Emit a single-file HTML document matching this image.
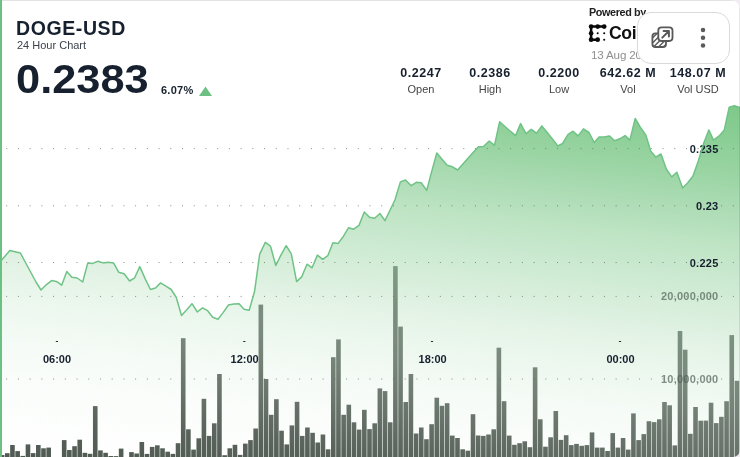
<!DOCTYPE html>
<html><head><meta charset="utf-8"><title>DOGE-USD</title>
<style>
html,body{margin:0;padding:0;}
body{width:740px;height:457px;overflow:hidden;background:#f1ecf2;font-family:"Liberation Sans",sans-serif;position:relative;}
#card{position:absolute;left:0;top:0;width:740px;height:457px;background:#fff;border-radius:0 9px 7px 0;overflow:hidden;}
#topline{position:absolute;left:0;top:0;width:740px;height:1px;background:#e3e3e3;}
#leftbar{position:absolute;left:0;top:0;width:2px;height:457px;background:#6cc182;}
.t,.stat{will-change:transform;}
.t{position:absolute;white-space:nowrap;color:#16202e;font-weight:bold;line-height:1;}
svg{position:absolute;left:0;top:0;will-change:transform;}
svg text{font-family:"Liberation Sans",sans-serif;font-weight:bold;font-size:11px;}
.stat{position:absolute;top:66px;width:70px;text-align:center;}
.stat b{display:block;font-size:12.5px;letter-spacing:0.55px;color:#16202e;line-height:14px;}
.stat span{display:block;font-size:11px;color:#444;line-height:14px;margin-top:2px;font-weight:normal;}
#pill{position:absolute;left:636.5px;top:11.5px;width:93px;height:52.5px;box-sizing:border-box;border:1px solid #d9d9d9;border-radius:14px;background:#fff;}
</style></head><body>
<div id="card">
<svg width="740" height="457" viewBox="0 0 740 457">
<defs>
<linearGradient id="ag" gradientUnits="userSpaceOnUse" x1="740" y1="100" x2="692.2" y2="534.7">
<stop offset="0.0000" stop-color="rgb(123,200,135)" stop-opacity="1.000"/>
<stop offset="0.0795" stop-color="rgb(127,201,139)" stop-opacity="0.923"/>
<stop offset="0.1523" stop-color="rgb(132,203,143)" stop-opacity="0.853"/>
<stop offset="0.2068" stop-color="rgb(139,206,150)" stop-opacity="0.801"/>
<stop offset="0.2727" stop-color="rgb(149,210,159)" stop-opacity="0.737"/>
<stop offset="0.3318" stop-color="rgb(159,215,168)" stop-opacity="0.680"/>
<stop offset="0.3977" stop-color="rgb(165,217,174)" stop-opacity="0.604"/>
<stop offset="0.4545" stop-color="rgb(171,220,179)" stop-opacity="0.539"/>
<stop offset="0.5114" stop-color="rgb(179,223,186)" stop-opacity="0.474"/>
<stop offset="0.5682" stop-color="rgb(189,227,195)" stop-opacity="0.408"/>
<stop offset="0.6318" stop-color="rgb(202,233,207)" stop-opacity="0.369"/>
<stop offset="0.6818" stop-color="rgb(209,236,213)" stop-opacity="0.326"/>
<stop offset="0.7432" stop-color="rgb(218,239,221)" stop-opacity="0.257"/>
<stop offset="0.8273" stop-color="rgb(225,242,228)" stop-opacity="0.165"/>
<stop offset="0.9091" stop-color="rgb(225,242,227)" stop-opacity="0.082"/>
<stop offset="1.0000" stop-color="rgb(222,241,225)" stop-opacity="0.030"/>
</linearGradient>
</defs>
<g fill="#4b544d"><rect x="-0.20" y="455.0" width="4.6" height="2.0"/><rect x="4.97" y="453.2" width="4.6" height="3.8"/><rect x="10.15" y="445.0" width="4.6" height="12.0"/><rect x="15.32" y="451.1" width="4.6" height="5.9"/><rect x="20.50" y="455.9" width="4.6" height="1.1"/><rect x="25.67" y="444.4" width="4.6" height="12.6"/><rect x="30.85" y="453.1" width="4.6" height="3.9"/><rect x="36.02" y="445.0" width="4.6" height="12.0"/><rect x="41.20" y="448.3" width="4.6" height="8.7"/><rect x="46.37" y="447.6" width="4.6" height="9.4"/><rect x="61.90" y="440.1" width="4.6" height="16.9"/><rect x="67.07" y="450.0" width="4.6" height="7.0"/><rect x="72.25" y="446.2" width="4.6" height="10.8"/><rect x="77.42" y="439.7" width="4.6" height="17.3"/><rect x="82.60" y="452.8" width="4.6" height="4.2"/><rect x="87.77" y="453.8" width="4.6" height="3.2"/><rect x="92.95" y="406.1" width="4.6" height="50.9"/><rect x="98.12" y="450.4" width="4.6" height="6.6"/><rect x="103.30" y="452.8" width="4.6" height="4.2"/><rect x="108.47" y="456.0" width="4.6" height="1.0"/><rect x="113.65" y="456.1" width="4.6" height="0.9"/><rect x="118.82" y="448.6" width="4.6" height="8.4"/><rect x="129.17" y="452.1" width="4.6" height="4.9"/><rect x="134.35" y="453.5" width="4.6" height="3.5"/><rect x="139.52" y="442.0" width="4.6" height="15.0"/><rect x="144.70" y="453.9" width="4.6" height="3.1"/><rect x="149.87" y="446.9" width="4.6" height="10.1"/><rect x="155.04" y="445.3" width="4.6" height="11.7"/><rect x="160.22" y="448.3" width="4.6" height="8.7"/><rect x="165.39" y="451.7" width="4.6" height="5.3"/><rect x="170.57" y="453.9" width="4.6" height="3.1"/><rect x="175.74" y="443.2" width="4.6" height="13.8"/><rect x="180.92" y="338.2" width="4.6" height="118.8"/><rect x="186.09" y="429.3" width="4.6" height="27.7"/><rect x="191.27" y="449.6" width="4.6" height="7.4"/><rect x="196.44" y="438.3" width="4.6" height="18.7"/><rect x="201.62" y="398.8" width="4.6" height="58.2"/><rect x="206.79" y="435.9" width="4.6" height="21.1"/><rect x="211.97" y="423.3" width="4.6" height="33.7"/><rect x="217.14" y="374.0" width="4.6" height="83.0"/><rect x="222.32" y="455.2" width="4.6" height="1.8"/><rect x="227.49" y="448.3" width="4.6" height="8.7"/><rect x="232.67" y="444.8" width="4.6" height="12.2"/><rect x="237.84" y="454.9" width="4.6" height="2.1"/><rect x="243.02" y="443.6" width="4.6" height="13.4"/><rect x="248.19" y="440.1" width="4.6" height="16.9"/><rect x="253.37" y="428.5" width="4.6" height="28.5"/><rect x="258.54" y="304.6" width="4.6" height="152.4"/><rect x="263.72" y="379.0" width="4.6" height="78.0"/><rect x="268.89" y="414.8" width="4.6" height="42.2"/><rect x="274.07" y="399.2" width="4.6" height="57.8"/><rect x="279.24" y="430.7" width="4.6" height="26.3"/><rect x="284.42" y="444.4" width="4.6" height="12.6"/><rect x="289.59" y="425.4" width="4.6" height="31.6"/><rect x="294.77" y="401.8" width="4.6" height="55.2"/><rect x="299.94" y="435.9" width="4.6" height="21.1"/><rect x="305.11" y="427.5" width="4.6" height="29.5"/><rect x="310.29" y="432.8" width="4.6" height="24.2"/><rect x="315.46" y="442.5" width="4.6" height="14.5"/><rect x="320.64" y="434.5" width="4.6" height="22.5"/><rect x="325.81" y="449.3" width="4.6" height="7.7"/><rect x="330.99" y="357.2" width="4.6" height="99.8"/><rect x="336.16" y="339.4" width="4.6" height="117.6"/><rect x="341.34" y="414.8" width="4.6" height="42.2"/><rect x="346.51" y="404.7" width="4.6" height="52.3"/><rect x="351.69" y="422.3" width="4.6" height="34.7"/><rect x="356.86" y="429.6" width="4.6" height="27.4"/><rect x="362.04" y="409.8" width="4.6" height="47.2"/><rect x="367.21" y="429.1" width="4.6" height="27.9"/><rect x="372.39" y="423.3" width="4.6" height="33.7"/><rect x="377.56" y="388.4" width="4.6" height="68.6"/><rect x="382.74" y="391.1" width="4.6" height="65.9"/><rect x="387.91" y="422.3" width="4.6" height="34.7"/><rect x="393.09" y="266.1" width="4.6" height="190.9"/><rect x="398.26" y="326.6" width="4.6" height="130.4"/><rect x="403.44" y="402.0" width="4.6" height="55.0"/><rect x="408.61" y="374.0" width="4.6" height="83.0"/><rect x="413.79" y="433.5" width="4.6" height="23.5"/><rect x="418.96" y="427.5" width="4.6" height="29.5"/><rect x="424.14" y="439.2" width="4.6" height="17.8"/><rect x="429.31" y="424.2" width="4.6" height="32.8"/><rect x="434.49" y="397.7" width="4.6" height="59.3"/><rect x="439.66" y="405.8" width="4.6" height="51.2"/><rect x="444.83" y="403.2" width="4.6" height="53.8"/><rect x="450.01" y="435.6" width="4.6" height="21.4"/><rect x="455.18" y="438.0" width="4.6" height="19.0"/><rect x="460.36" y="449.3" width="4.6" height="7.7"/><rect x="465.53" y="450.7" width="4.6" height="6.3"/><rect x="470.71" y="414.2" width="4.6" height="42.8"/><rect x="475.88" y="435.5" width="4.6" height="21.5"/><rect x="481.06" y="435.9" width="4.6" height="21.1"/><rect x="486.23" y="434.5" width="4.6" height="22.5"/><rect x="491.41" y="429.3" width="4.6" height="27.7"/><rect x="496.58" y="347.7" width="4.6" height="109.3"/><rect x="501.76" y="401.2" width="4.6" height="55.8"/><rect x="506.93" y="435.6" width="4.6" height="21.4"/><rect x="512.11" y="444.8" width="4.6" height="12.2"/><rect x="517.28" y="443.2" width="4.6" height="13.8"/><rect x="522.46" y="441.3" width="4.6" height="15.7"/><rect x="527.63" y="447.2" width="4.6" height="9.8"/><rect x="532.81" y="367.3" width="4.6" height="89.7"/><rect x="537.98" y="419.3" width="4.6" height="37.7"/><rect x="543.16" y="446.7" width="4.6" height="10.3"/><rect x="548.33" y="437.3" width="4.6" height="19.7"/><rect x="553.51" y="411.0" width="4.6" height="46.0"/><rect x="558.68" y="439.9" width="4.6" height="17.1"/><rect x="563.86" y="435.2" width="4.6" height="21.8"/><rect x="569.03" y="445.1" width="4.6" height="11.9"/><rect x="574.21" y="443.9" width="4.6" height="13.1"/><rect x="579.38" y="445.8" width="4.6" height="11.2"/><rect x="584.56" y="445.1" width="4.6" height="11.9"/><rect x="589.73" y="432.4" width="4.6" height="24.6"/><rect x="594.90" y="447.6" width="4.6" height="9.4"/><rect x="600.08" y="447.6" width="4.6" height="9.4"/><rect x="605.25" y="451.0" width="4.6" height="6.0"/><rect x="610.43" y="433.1" width="4.6" height="23.9"/><rect x="615.60" y="447.6" width="4.6" height="9.4"/><rect x="620.78" y="438.0" width="4.6" height="19.0"/><rect x="625.95" y="449.6" width="4.6" height="7.4"/><rect x="631.13" y="413.4" width="4.6" height="43.6"/><rect x="636.30" y="440.1" width="4.6" height="16.9"/><rect x="641.48" y="434.1" width="4.6" height="22.9"/><rect x="646.65" y="421.2" width="4.6" height="35.8"/><rect x="651.83" y="422.1" width="4.6" height="34.9"/><rect x="657.00" y="419.3" width="4.6" height="37.7"/><rect x="662.18" y="402.0" width="4.6" height="55.0"/><rect x="667.35" y="405.3" width="4.6" height="51.7"/><rect x="672.53" y="445.4" width="4.6" height="11.6"/><rect x="677.70" y="331.0" width="4.6" height="126.0"/><rect x="682.88" y="349.7" width="4.6" height="107.3"/><rect x="688.05" y="433.8" width="4.6" height="23.2"/><rect x="693.23" y="407.0" width="4.6" height="50.0"/><rect x="698.40" y="420.7" width="4.6" height="36.3"/><rect x="703.58" y="420.6" width="4.6" height="36.4"/><rect x="708.75" y="402.7" width="4.6" height="54.3"/><rect x="713.93" y="423.1" width="4.6" height="33.9"/><rect x="719.10" y="416.8" width="4.6" height="40.2"/><rect x="724.28" y="401.2" width="4.6" height="55.8"/><rect x="729.45" y="335.1" width="4.6" height="121.9"/><rect x="734.63" y="380.8" width="4.6" height="76.2"/></g>
<path d="M0.0 262.0 L4.7 256.5 L9.8 250.6 L15.1 251.7 L20.4 253.0 L25.5 262.5 L30.6 272.0 L36.0 282.0 L41.0 290.0 L46.2 284.8 L51.5 280.6 L56.4 281.4 L61.7 285.2 L66.8 271.4 L71.9 277.2 L77.2 278.0 L82.7 282.0 L87.8 262.9 L92.7 263.4 L98.0 261.3 L103.1 262.9 L108.2 262.3 L113.5 262.9 L118.8 272.3 L124.1 273.8 L129.6 281.0 L134.7 277.8 L139.8 266.6 L145.1 278.6 L150.4 289.5 L155.5 288.0 L160.6 282.9 L165.9 286.1 L171.2 289.5 L176.3 297.5 L181.5 315.5 L186.8 309.8 L192.0 303.7 L197.3 312.0 L202.5 307.9 L207.6 310.7 L212.7 317.3 L218.0 319.2 L223.1 312.6 L228.4 305.0 L233.7 304.1 L239.0 303.7 L244.1 309.2 L249.2 310.3 L254.5 291.8 L259.7 254.1 L265.3 242.4 L270.5 246.2 L275.8 265.5 L280.9 255.1 L286.2 245.7 L291.3 253.8 L296.6 281.6 L301.7 276.9 L307.0 264.2 L312.1 267.8 L317.4 255.1 L322.7 259.3 L327.8 255.7 L332.9 242.8 L338.2 243.4 L343.5 236.2 L348.6 227.7 L353.7 229.2 L359.0 225.4 L364.3 212.0 L369.5 217.3 L374.6 218.2 L379.9 213.5 L385.0 220.6 L390.1 210.0 L395.1 199.5 L400.4 181.9 L405.5 180.0 L411.2 185.7 L416.3 182.3 L421.2 182.7 L426.7 190.4 L431.6 171.9 L436.8 153.0 L442.0 159.2 L447.2 165.3 L452.5 166.8 L457.6 170.0 L462.7 164.3 L468.0 158.3 L473.1 152.4 L478.4 146.7 L483.7 146.4 L489.2 141.0 L494.5 145.4 L499.6 121.8 L504.9 126.5 L510.2 131.2 L515.6 135.6 L520.6 123.6 L526.0 133.7 L531.3 129.3 L536.5 133.1 L541.8 125.9 L547.0 132.2 L552.2 138.8 L557.8 146.0 L562.6 143.5 L567.9 134.6 L573.0 131.2 L578.1 135.9 L583.4 128.9 L589.0 132.5 L594.2 142.6 L599.1 136.9 L604.2 136.9 L609.3 135.9 L614.7 140.8 L619.8 138.8 L625.1 135.6 L629.9 140.1 L635.2 118.5 L640.3 127.1 L645.8 135.0 L650.7 151.0 L655.7 157.1 L661.0 154.0 L666.4 169.2 L671.7 176.9 L676.9 172.2 L682.6 188.0 L687.8 182.7 L693.0 176.0 L698.3 161.0 L703.6 143.5 L708.8 129.9 L713.5 140.1 L719.2 135.9 L724.3 129.9 L729.2 107.2 L734.3 105.7 L740.0 107.6 L740 457 L0 457 Z" fill="url(#ag)"/>
<g stroke="#5f6a62" stroke-opacity="0.75" stroke-width="1" stroke-dasharray="1 10.72" fill="none"><line x1="6.2" y1="148.6" x2="740" y2="148.6"/><line x1="6.2" y1="205.8" x2="740" y2="205.8"/><line x1="6.2" y1="262.5" x2="740" y2="262.5"/><line x1="6.2" y1="296.4" x2="740" y2="296.4"/><line x1="6.2" y1="379" x2="740" y2="379"/></g>
<g fill="#16202e" text-anchor="end" style="font-size:11.3px;letter-spacing:0.25px">
<text x="718.5" y="152.6">0.235</text>
<text x="718.5" y="209.8">0.23</text>
<text x="718.5" y="267">0.225</text>
<text x="718.5" y="300.4" fill="#4f5f55" fill-opacity="0.7">20,000,000</text>
<text x="718.5" y="383" fill="#4f5f55" fill-opacity="0.7">10,000,000</text>
</g>
<g fill="#16202e" text-anchor="middle">
<text x="57" y="363">06:00</text>
<text x="244.6" y="363">12:00</text>
<text x="432.6" y="363">18:00</text>
<text x="620.5" y="363">00:00</text>
</g>
<g fill="#2a2f33"><rect x="55.8" y="341" width="2.2" height="1"/><rect x="243.2" y="341" width="2.2" height="1"/><rect x="430.9" y="341" width="2.2" height="1"/><rect x="618.9" y="341" width="2.2" height="1"/></g>
<path d="M0.0 262.0 L4.7 256.5 L9.8 250.6 L15.1 251.7 L20.4 253.0 L25.5 262.5 L30.6 272.0 L36.0 282.0 L41.0 290.0 L46.2 284.8 L51.5 280.6 L56.4 281.4 L61.7 285.2 L66.8 271.4 L71.9 277.2 L77.2 278.0 L82.7 282.0 L87.8 262.9 L92.7 263.4 L98.0 261.3 L103.1 262.9 L108.2 262.3 L113.5 262.9 L118.8 272.3 L124.1 273.8 L129.6 281.0 L134.7 277.8 L139.8 266.6 L145.1 278.6 L150.4 289.5 L155.5 288.0 L160.6 282.9 L165.9 286.1 L171.2 289.5 L176.3 297.5 L181.5 315.5 L186.8 309.8 L192.0 303.7 L197.3 312.0 L202.5 307.9 L207.6 310.7 L212.7 317.3 L218.0 319.2 L223.1 312.6 L228.4 305.0 L233.7 304.1 L239.0 303.7 L244.1 309.2 L249.2 310.3 L254.5 291.8 L259.7 254.1 L265.3 242.4 L270.5 246.2 L275.8 265.5 L280.9 255.1 L286.2 245.7 L291.3 253.8 L296.6 281.6 L301.7 276.9 L307.0 264.2 L312.1 267.8 L317.4 255.1 L322.7 259.3 L327.8 255.7 L332.9 242.8 L338.2 243.4 L343.5 236.2 L348.6 227.7 L353.7 229.2 L359.0 225.4 L364.3 212.0 L369.5 217.3 L374.6 218.2 L379.9 213.5 L385.0 220.6 L390.1 210.0 L395.1 199.5 L400.4 181.9 L405.5 180.0 L411.2 185.7 L416.3 182.3 L421.2 182.7 L426.7 190.4 L431.6 171.9 L436.8 153.0 L442.0 159.2 L447.2 165.3 L452.5 166.8 L457.6 170.0 L462.7 164.3 L468.0 158.3 L473.1 152.4 L478.4 146.7 L483.7 146.4 L489.2 141.0 L494.5 145.4 L499.6 121.8 L504.9 126.5 L510.2 131.2 L515.6 135.6 L520.6 123.6 L526.0 133.7 L531.3 129.3 L536.5 133.1 L541.8 125.9 L547.0 132.2 L552.2 138.8 L557.8 146.0 L562.6 143.5 L567.9 134.6 L573.0 131.2 L578.1 135.9 L583.4 128.9 L589.0 132.5 L594.2 142.6 L599.1 136.9 L604.2 136.9 L609.3 135.9 L614.7 140.8 L619.8 138.8 L625.1 135.6 L629.9 140.1 L635.2 118.5 L640.3 127.1 L645.8 135.0 L650.7 151.0 L655.7 157.1 L661.0 154.0 L666.4 169.2 L671.7 176.9 L676.9 172.2 L682.6 188.0 L687.8 182.7 L693.0 176.0 L698.3 161.0 L703.6 143.5 L708.8 129.9 L713.5 140.1 L719.2 135.9 L724.3 129.9 L729.2 107.2 L734.3 105.7 L740.0 107.6" fill="none" stroke="#70c386" stroke-width="1.5" stroke-linejoin="round" stroke-linecap="round"/>
</svg>
<div id="topline"></div>
<div id="leftbar"></div>
<div style="position:absolute;left:739px;top:0;width:1px;height:457px;background:rgba(0,0,0,0.09);"></div>

<div class="t" style="left:16px;top:19.3px;font-size:19.5px;letter-spacing:0.6px;">DOGE-USD</div>
<div class="t" style="left:17px;top:40px;font-size:11px;font-weight:normal;color:#3c434c;">24 Hour Chart</div>
<div class="t" style="left:15.5px;top:58.5px;font-size:40px;transform-origin:0 0;transform:scaleX(1.085);">0.2383</div>
<div class="t" style="left:160.5px;top:85px;font-size:11px;letter-spacing:0.25px;">6.07%</div>
<svg width="14" height="11" style="left:198.5px;top:85.5px;"><path d="M6.5 0.5 L13 10 L0 10 Z" fill="#6cc182"/></svg>

<div class="stat" style="left:385.6px;"><b>0.2247</b><span>Open</span></div>
<div class="stat" style="left:454.8px;"><b>0.2386</b><span>High</span></div>
<div class="stat" style="left:523.8px;"><b>0.2200</b><span>Low</span></div>
<div class="stat" style="left:593.4px;"><b>642.62 M</b><span>Vol</span></div>
<div class="stat" style="left:662.8px;"><b>148.07 M</b><span>Vol USD</span></div>

<div class="t" style="left:589px;top:6.8px;font-size:10.8px;color:#222;letter-spacing:-0.38px;">Powered by</div>
<svg width="24" height="24" viewBox="586 21 24 24" style="left:586.3px;top:21.1px;">
<g fill="#0a0a0a" stroke="#0a0a0a" stroke-width="2.5" stroke-linecap="round">
<path d="M604.2 26.6 H591.1 V39.7 H597.7" fill="none" stroke-linejoin="round"/>
<g stroke="none">
<circle cx="591.1" cy="26.6" r="2.35"/><circle cx="597.7" cy="26.6" r="2.35"/><circle cx="604.2" cy="26.6" r="2.35"/>
<circle cx="591.1" cy="33.2" r="2.3"/><circle cx="591.1" cy="39.7" r="2.35"/><circle cx="597.7" cy="39.7" r="2.35"/>
<circle cx="597.7" cy="33.3" r="1.05"/><circle cx="604.2" cy="33.3" r="1.05"/><circle cx="604.2" cy="39.8" r="1.05"/>
</g></g></svg>
<div class="t" style="left:609px;top:25.2px;font-size:17.6px;color:#111;letter-spacing:-0.35px;">CoinDesk</div>
<div class="t" style="left:590.8px;top:49px;font-size:11.6px;font-weight:normal;color:#909090;letter-spacing:-0.15px;">13 Aug 2025</div>

<div id="pill">
<svg width="30" height="30" viewBox="648 22 30 30" style="left:10.5px;top:9.5px;" fill="none" stroke="#585858" stroke-width="1.8" stroke-linecap="round" stroke-linejoin="round">
<defs><clipPath id="bk"><rect x="652.4" y="33.3" width="13.6" height="13.7" rx="3"/></clipPath></defs>
<g clip-path="url(#bk)" stroke-width="1.35" stroke-linecap="butt">
<path d="M648 42.5 L660 30.5 M648 47.5 L664 31.5 M650 50.5 L668 32.5 M655 50.5 L673 32.5 M660 50.5 L678 32.5"/>
</g>
<rect x="652.4" y="33.3" width="13.6" height="13.7" rx="3"/>
<rect x="658.3" y="27.4" width="14.2" height="13.6" rx="3.2" fill="#fff"/>
<path d="M662.3 37.6 L668.7 31.2 M663.6 31.1 H668.9 V36.4" stroke-width="2"/>
</svg>
<svg width="6" height="24" viewBox="0 0 6 24" style="left:62px;top:14.1px;" fill="#5a5a5a"><circle cx="3" cy="3" r="2.25"/><circle cx="3" cy="10.8" r="2.25"/><circle cx="3" cy="18.6" r="2.25"/></svg>
</div>
</div>
</body></html>
